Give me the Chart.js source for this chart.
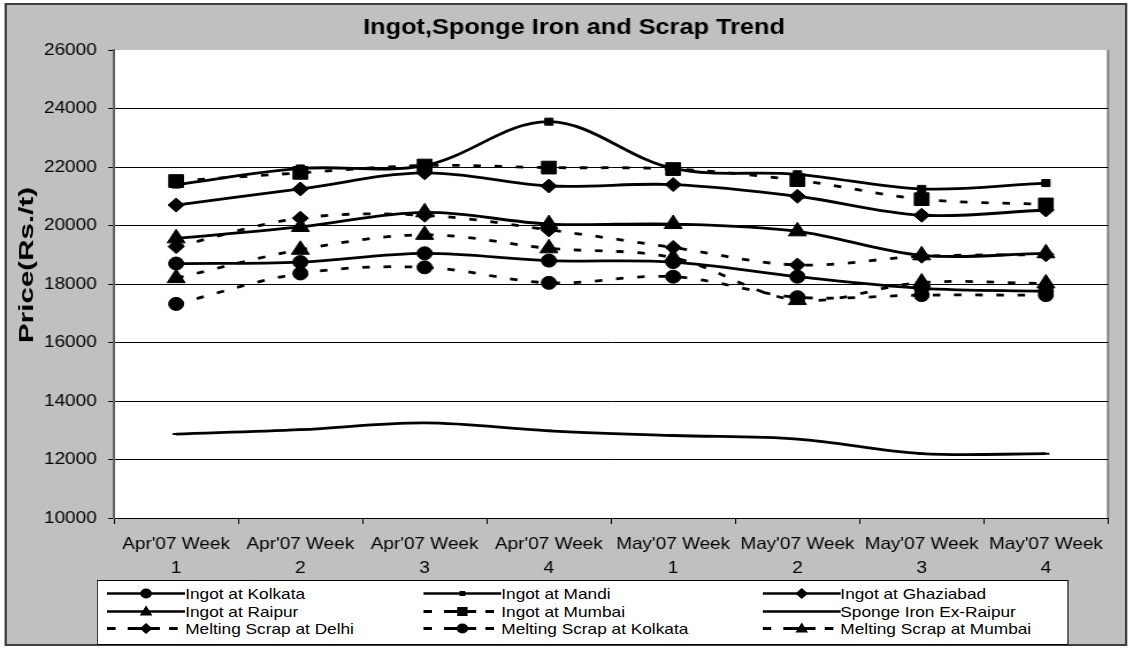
<!DOCTYPE html>
<html>
<head>
<meta charset="utf-8">
<script src="https://cdn.jsdelivr.net/npm/chart.js"></script>
<style>
html, body { margin: 0; padding: 0; background: #fff; overflow: hidden; }
/* the reference is stretched sideways, so the whole chart is drawn narrow and widened */
#stage { position: absolute; left: 0; top: 0; width: 985px; height: 649px;
  transform-origin: 0 0; transform: scaleX(1.15025);
  font-family: 'Liberation Sans', Arial, sans-serif; color: #000; }
#frame { position: absolute; left: 4px; top: 3px; width: 972px; height: 639px;
  background: #c0c0c0; border: 2px solid #404040; }
#myChart { position: absolute; left: 0; top: 0; }
#ytitle { position: absolute; left: 23.5px; top: 265px; font-weight: bold; font-size: 17px;
  white-space: nowrap; transform: translate(-50%, -50%) rotate(-90deg) scaleX(1.74); }
#legend { position: absolute; left: 84.3px; top: 580px; width: 845px; height: 65px;
  box-sizing: border-box; background: #fff; border: 1px solid #000;
  padding: 4px 0 0 7.7px; display: grid; grid-template-columns: 274.8px 294.8px auto;
  grid-auto-rows: 17.5px; font-size: 15px; }
#legend .item { display: flex; align-items: center; white-space: nowrap; line-height: 17.5px; }
#legend svg { flex: none; }
</style>
</head>
<body>
<div id="stage">
  <div id="frame"></div>
  <canvas id="myChart" width="985" height="649"></canvas>
  <div id="ytitle">Price(Rs./t)</div>
  <div id="legend"></div>
</div>
<script>
var weekLabels = [["Apr'07 Week","1"],["Apr'07 Week","2"],["Apr'07 Week","3"],["Apr'07 Week","4"],
                  ["May'07 Week","1"],["May'07 Week","2"],["May'07 Week","3"],["May'07 Week","4"]];

var ingotKolkata   = [18700, 18750, 19050, 18800, 18750, 18250, 17850, 17750];
var ingotMandi     = [21400, 21950, 22050, 23550, 21950, 21750, 21250, 21450];
var ingotGhaziabad = [20700, 21250, 21800, 21350, 21400, 21000, 20350, 20530];
var ingotRaipur    = [19560, 19950, 20450, 20050, 20050, 19800, 18980, 19050];
var ingotMumbai    = [21520, 21800, 22050, 21980, 21930, 21550, 20900, 20720];
var spongeRaipur   = [12870, 13020, 13250, 12980, 12820, 12700, 12200, 12200];
var scrapDelhi     = [19280, 20250, 20350, 19850, 19250, 18650, 18950, 19000];
var scrapKolkata   = [17320, 18360, 18570, 18040, 18250, 17550, 17620, 17620];
var scrapMumbai    = [18200, 19170, 19680, 19220, 18900, 17450, 18050, 18020];

var yMin = 10000, yMax = 26000, yStep = 2000;

function series(label, data, marker, radius, dashed) {
  return {
    label: label,
    data: data,
    borderColor: "#000",
    borderWidth: 2.8,
    borderDash: dashed ? [6.5, 12] : [],
    tension: 0.35,
    fill: false,
    pointStyle: marker,
    pointRadius: radius,
    pointHoverRadius: radius,
    pointBorderWidth: marker === "line" ? 2 : 1,
    pointBackgroundColor: "#000",
    pointBorderColor: "#000"
  };
}

var datasets = [
  series("Ingot at Kolkata", ingotKolkata, "circle", 6.5, false),
  series("Ingot at Mandi", ingotMandi, "rect", 5, false),
  series("Ingot at Ghaziabad", ingotGhaziabad, "rectRot", 7, false),
  series("Ingot at Raipur", ingotRaipur, "triangle", 9, false),
  series("Ingot at Mumbai", ingotMumbai, "rect", 9, true),
  series("Sponge Iron Ex-Raipur", spongeRaipur, "line", 3, false),
  series("Melting Scrap at Delhi", scrapDelhi, "rectRot", 7, true),
  series("Melting Scrap at Kolkata", scrapKolkata, "circle", 6.5, true),
  series("Melting Scrap at Mumbai", scrapMumbai, "triangle", 9, true)
];

var plotBg = {
  id: "plotBg",
  beforeDraw(chart) {
    var ctx = chart.ctx, a = chart.chartArea;
    ctx.save();
    ctx.fillStyle = "#fff";
    ctx.fillRect(a.left, a.top, a.right - a.left, a.bottom - a.top);
    ctx.strokeStyle = "#808080";
    ctx.lineWidth = 2;
    ctx.beginPath();
    ctx.moveTo(a.right, a.top);
    ctx.lineTo(a.right, a.bottom);
    ctx.stroke();
    ctx.restore();
  }
};

Chart.defaults.font.family = "'Liberation Sans', Arial, sans-serif";
Chart.defaults.color = "#000";

new Chart("myChart", {
  type: "line",
  data: { labels: weekLabels, datasets: datasets },
  plugins: [plotBg],
  options: {
    responsive: false,
    animation: false,
    devicePixelRatio: 1,
    layout: { padding: { left: 34.7, right: 21.7, top: 0, bottom: 0 } },
    plugins: {
      legend: { display: false },
      tooltip: { enabled: false },
      title: {
        display: true,
        text: "Ingot,Sponge Iron and Scrap Trend",
        font: { size: 22, weight: "bold" },
        color: "#000",
        padding: { top: 15, bottom: 8.6 }
      }
    },
    scales: {
      x: {
        offset: true,
        afterFit: function(s) { s.height = 131; },
        grid: { offset: true, drawOnChartArea: false, drawTicks: true, tickLength: 6, color: "#000" },
        border: { display: true, color: "#000", width: 1 },
        ticks: { font: { size: 16.5, lineHeight: 1.42 }, color: "#000", padding: 9,
                 maxRotation: 0, minRotation: 0, autoSkip: false }
      },
      y: {
        min: yMin,
        max: yMax,
        afterFit: function(s) { s.width = 64.4; },
        grid: {
          color: function(c) { return c.tick && c.tick.value === yMax ? "rgba(0,0,0,0)" : "#000"; },
          tickColor: "#000",
          tickLength: 5,
          lineWidth: 1
        },
        border: { display: true, color: "#606060", width: 2 },
        ticks: { stepSize: yStep, font: { size: 16.5 }, color: "#000", padding: 10,
                 callback: function(v) { return String(v); } }
      }
    }
  }
});

// legend in the same row-major order as the reference
function markerSvg(ds) {
  var cx = 34, cy = 8.5, s = "";
  var r = ds.pointRadius;
  if (ds.pointStyle === "circle") s = '<circle cx="' + cx + '" cy="' + cy + '" r="5"/>';
  else if (ds.pointStyle === "rect") {
    var h = r > 6 ? 4.5 : 2.5;
    s = '<rect x="' + (cx - h) + '" y="' + (cy - h) + '" width="' + 2 * h + '" height="' + 2 * h + '"/>';
  }
  else if (ds.pointStyle === "rectRot") s = '<polygon points="' + (cx - 5.5) + ',' + cy + ' ' + cx + ',' + (cy - 5.5) + ' ' + (cx + 5.5) + ',' + cy + ' ' + cx + ',' + (cy + 5.5) + '"/>';
  else if (ds.pointStyle === "triangle") s = '<polygon points="' + cx + ',' + (cy - 6) + ' ' + (cx + 5.5) + ',' + (cy + 4) + ' ' + (cx - 5.5) + ',' + (cy + 4) + '"/>';
  return s;
}
var legendHtml = "";
datasets.forEach(function(ds) {
  var line;
  if (ds.borderDash.length) {
    line = '<path d="M0 8.5H7.5M18 8.5H46M54 8.5H61.5" stroke="#000" stroke-width="2.8"/>';
  } else {
    line = '<path d="M0 8.5H68" stroke="#000" stroke-width="2.3"/>';
  }
  legendHtml += '<div class="item"><svg width="68" height="17" viewBox="0 0 68 17">' + line +
    '<g fill="#000">' + markerSvg(ds) + '</g></svg><span>' + ds.label + '</span></div>';
});
document.getElementById("legend").innerHTML = legendHtml;
</script>
</body>
</html>
